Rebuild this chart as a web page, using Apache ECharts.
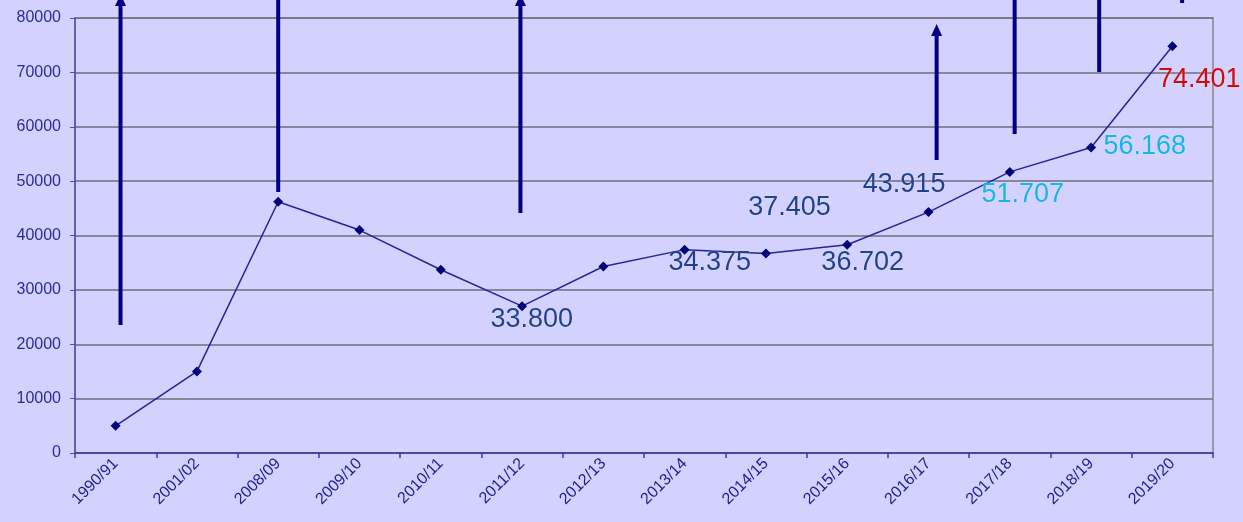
<!DOCTYPE html>
<html><head><meta charset="utf-8">
<script src="https://cdn.jsdelivr.net/npm/echarts@6/dist/echarts.min.js"></script>
<style>html,body{margin:0;padding:0;background:#D3D1FE}#c{width:1243px;height:522px}</style>
</head><body><div id="c"></div>
<script>
var categories = ['1990/91','2001/02','2008/09','2009/10','2010/11','2011/12','2012/13','2013/14','2014/15','2015/16','2016/17','2017/18','2018/19','2019/20'];
var values = [5000, 15000, 46200, 41000, 33700, 27000, 34300, 37400, 36700, 38300, 44300, 51700, 56200, 74800];
var yTicks = {min: 0, max: 80000, interval: 10000};

// annotation arrows: position (category units), start value, end value, arrowhead
var arrowX    = [0.06, 2.0, 4.98, 10.1, 11.06, 12.1, 13.12];
var arrowFrom = [23540, 48000, 44140, 53890, 58670, 70070, 82760];
var arrowTo   = [84400, 86000, 84400, 78900, 86000, 86000, 86000];
var arrowHead = [1, 0, 1, 1, 0, 0, 0];

// annotation labels
var labelText  = ['33.800','34.375','37.405','36.702','43.915','51.707','56.168','74.401'];
var labelX     = [5.12, 7.31, 8.29, 9.19, 9.70, 11.16, 12.66, 13.33];
var labelY     = [24500, 34940, 45060, 34940, 49290, 47450, 56280, 68600];
var labelColor = ['#20428E','#20428E','#20428E','#20428E','#20428E','#14B4F0','#14B4F0','#D40A0A'];

var arrowData = arrowX.map(function(x,i){return [x, arrowFrom[i], arrowTo[i], arrowHead[i]];});
var labelData = labelX.map(function(x,i){return [x, labelY[i], i];});

var chart = echarts.init(document.getElementById('c'));
chart.setOption({
  backgroundColor: '#D3D1FE',
  animation: false,
  grid: {left: 75, right: 30, top: 18, bottom: 69, show: true, borderColor: '#858590', borderWidth: 1.5, backgroundColor: 'transparent'},
  xAxis: [{
    type: 'category', data: categories, boundaryGap: true,
    axisLine: {onZero: false, lineStyle: {color: '#3A3AA8', width: 1.5}},
    axisTick: {show: true, length: 5, lineStyle: {color: '#3A3AA8', width: 1.5}},
    axisLabel: {interval: 0, rotate: 45, color: '#1C1C8C', fontSize: 16, fontFamily: 'Liberation Sans', margin: 8},
    splitLine: {show: false}
  },{
    type: 'value', min: -0.5, max: 13.5, show: false
  }],
  yAxis: {
    type: 'value', min: yTicks.min, max: yTicks.max, interval: yTicks.interval,
    axisLine: {show: true, onZero: false, lineStyle: {color: '#5050A8', width: 1.5}},
    axisTick: {show: true, length: 5, lineStyle: {color: '#5050A8'}},
    axisLabel: {color: '#2B2B9B', fontSize: 16, fontFamily: 'Liberation Sans', margin: 14,
      formatter: function(v){ return String(v); }},
    splitLine: {lineStyle: {color: '#6E6E7A', width: 1.5}}
  },
  series: [{
    type: 'line', data: values, xAxisIndex: 0,
    symbol: 'diamond', symbolSize: 10,
    lineStyle: {color: '#24249A', width: 1.5},
    itemStyle: {color: '#00007A'},
    z: 3
  },{
    type: 'custom', xAxisIndex: 1, data: arrowData, clip: false, z: 4,
    renderItem: function(params, api){
      var x = api.value(0);
      var p0 = api.coord([x, api.value(1)]);
      var p1 = api.coord([x, api.value(2)]);
      var head = api.value(3);
      var children = [];
      var topY = head ? p1[1] + 11 : p1[1];
      children.push({type:'line', shape:{x1:p0[0], y1:p0[1], x2:p1[0], y2:topY}, style:{stroke:'#000080', lineWidth:4}});
      if (head) {
        children.push({type:'polygon', shape:{points:[[p1[0], p1[1]],[p1[0]-5.5, p1[1]+12],[p1[0]+5.5, p1[1]+12]]}, style:{fill:'#000080'}});
      }
      return {type:'group', children: children};
    }
  },{
    type: 'custom', xAxisIndex: 1, data: labelData, clip: false, z: 5,
    renderItem: function(params, api){
      var p = api.coord([api.value(0), api.value(1)]);
      var i = api.value(2);
      return {type:'text', x: p[0], y: p[1], style:{
        text: labelText[i], fill: labelColor[i], font: '27px "Liberation Sans"',
        align: 'center', verticalAlign: 'middle', textAlign: 'center', textVerticalAlign: 'middle',
        textShadowColor: 'rgba(255,255,255,0.5)', textShadowBlur: 2
      }};
    }
  }]
});
</script></body></html>
